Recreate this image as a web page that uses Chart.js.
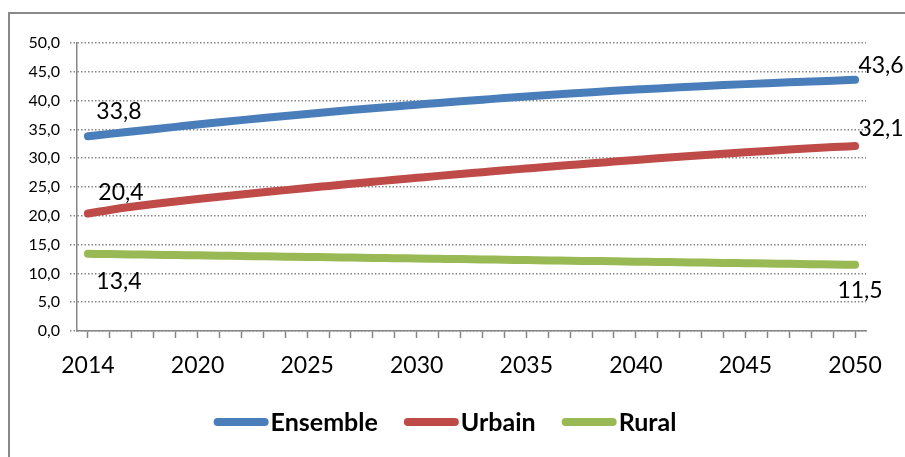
<!DOCTYPE html>
<html>
<head>
<meta charset="utf-8">
<script src="https://cdn.jsdelivr.net/npm/chart.js@4"></script>
<style>
    body { margin: 0; background: #fff; overflow: hidden; }
    #wrap { position: relative; width: 905px; height: 457px; }
    #frame { position: absolute; left: 8px; top: 12px; width: 1000px; height: 1000px; border: 2px solid #898989; }
    canvas { position: absolute; left: 0; top: 0; }
</style>
</head>
<body>
<div id="wrap">
    <div id="frame"></div>
    <canvas id="grafico" width="905" height="457"></canvas>
</div>
<script>
// categories: 2014 then 2016..2050
let annees = ["2014"];
for (let a = 2016; a <= 2050; a++) annees.push(String(a));

let ensemble = [33.80, 34.22, 34.63, 35.04, 35.44, 35.84, 36.23, 36.61, 36.98, 37.34,
    37.69, 38.03, 38.36, 38.68, 38.99, 39.29, 39.59, 39.88, 40.16, 40.44,
    40.71, 40.97, 41.22, 41.46, 41.69, 41.91, 42.12, 42.32, 42.51, 42.69,
    42.86, 43.02, 43.17, 43.31, 43.45, 43.60];
let urbain = [20.40, 21.02, 21.56, 22.04, 22.48, 22.90, 23.30, 23.69, 24.08, 24.46,
    24.83, 25.19, 25.55, 25.90, 26.25, 26.59, 26.93, 27.26, 27.58, 27.90,
    28.21, 28.52, 28.82, 29.12, 29.41, 29.70, 29.98, 30.25, 30.52, 30.78,
    31.03, 31.27, 31.50, 31.72, 31.93, 32.10];
let rural = [13.40, 13.35, 13.29, 13.24, 13.18, 13.13, 13.07, 13.02, 12.96, 12.91,
    12.86, 12.80, 12.75, 12.69, 12.64, 12.58, 12.53, 12.48, 12.42, 12.37,
    12.31, 12.26, 12.20, 12.15, 12.10, 12.04, 11.99, 11.93, 11.88, 11.82,
    11.77, 11.72, 11.66, 11.61, 11.55, 11.50];

let noms = ["Ensemble", "Urbain", "Rural"];
let couleurs = ["#4a7ebb", "#be4b48", "#98b954"];

// offsets of the first/last value labels (dx, dy)
let decalages = [
    [[31, -25], [26, -14]],
    [[33, -21], [26, -18]],
    [[31, 28], [5, 26]]
];

const fmt = (v) => v.toFixed(1).replace(".", ",");
const police = "Lato, 'Open Sans', sans-serif";

const etiquettes = {
    id: "etiquettes",
    afterDatasetsDraw(chart) {
        let ctx = chart.ctx;
        ctx.save();
        ctx.font = "23px " + police;
        ctx.fillStyle = "#000";
        ctx.textAlign = "center";
        ctx.textBaseline = "middle";
        chart.data.datasets.forEach((ds, i) => {
            let meta = chart.getDatasetMeta(i);
            let premier = meta.data[0];
            let dernier = meta.data[meta.data.length - 1];
            ctx.fillText(fmt(ds.data[0]), premier.x + decalages[i][0][0], premier.y + decalages[i][0][1]);
            ctx.fillText(fmt(ds.data[ds.data.length - 1]), dernier.x + decalages[i][1][0], dernier.y + decalages[i][1][1]);
        });
        ctx.restore();
    }
};

// legend drawn by hand: line sample right against the bold text
const legende = {
    id: "legende",
    afterDraw(chart) {
        let ctx = chart.ctx;
        let longueur = 55, ecart = 2, espace = 26, y = 422;
        ctx.save();
        ctx.font = "bold 25px " + police;
        let largeurs = chart.data.datasets.map(ds => longueur + ecart + ctx.measureText(ds.label).width);
        let total = largeurs.reduce((a, b) => a + b, 0) + espace * (largeurs.length - 1);
        let x = 445 - total / 2;
        chart.data.datasets.forEach((ds, i) => {
            ctx.strokeStyle = ds.borderColor;
            ctx.lineWidth = 8;
            ctx.lineCap = "round";
            ctx.beginPath();
            ctx.moveTo(x + 4, y);
            ctx.lineTo(x + longueur - 4, y);
            ctx.stroke();
            ctx.fillStyle = "#000";
            ctx.textAlign = "left";
            ctx.textBaseline = "middle";
            ctx.fillText(ds.label, x + longueur + ecart, y + 1);
            x += largeurs[i] + espace;
        });
        ctx.restore();
    }
};

let series = [ensemble, urbain, rural];

new Chart("grafico", {
    type: "line",
    data: {
        labels: annees,
        datasets: series.map((s, i) => ({
            label: noms[i],
            data: s,
            borderColor: couleurs[i],
            backgroundColor: couleurs[i],
            borderWidth: 8,
            borderCapStyle: "round",
            borderJoinStyle: "round",
            pointRadius: 0,
            cubicInterpolationMode: "monotone"
        }))
    },
    options: {
        responsive: false,
        animation: false,
        layout: { padding: { top: 43, right: 39, left: 0, bottom: 66 } },
        scales: {
            x: {
                offset: true,
                afterFit: (s) => { s.height = 60; },
                grid: {
                    drawOnChartArea: false,
                    drawTicks: true,
                    tickLength: 7,
                    tickColor: "#868686",
                    tickWidth: 1.5
                },
                border: { display: true, color: "#868686", width: 1.5 },
                ticks: {
                    autoSkip: false,
                    maxRotation: 0,
                    color: "#000",
                    padding: 14,
                    font: { family: police, size: 23 },
                    callback: function (v, idx) {
                        return idx % 5 === 0 ? annees[idx] : "";
                    }
                }
            },
            y: {
                min: 0,
                max: 50,
                afterFit: (s) => { s.width = 77; },
                grid: {
                    color: "#868686",
                    lineWidth: 1.5,
                    borderDash: [1.5, 2],
                    tickLength: 7,
                    tickBorderDash: [1.5, 2],
                    tickColor: "#868686"
                },
                border: { display: true, color: "#868686", width: 1.5, dash: [1.5, 2] },
                ticks: {
                    stepSize: 5,
                    color: "#000",
                    padding: 10,
                    font: { family: police, size: 16 },
                    callback: (v) => fmt(v)
                }
            }
        },
        plugins: {
            legend: { display: false },
            tooltip: { enabled: false }
        }
    },
    plugins: [etiquettes, legende]
});
</script>
</body>
</html>
